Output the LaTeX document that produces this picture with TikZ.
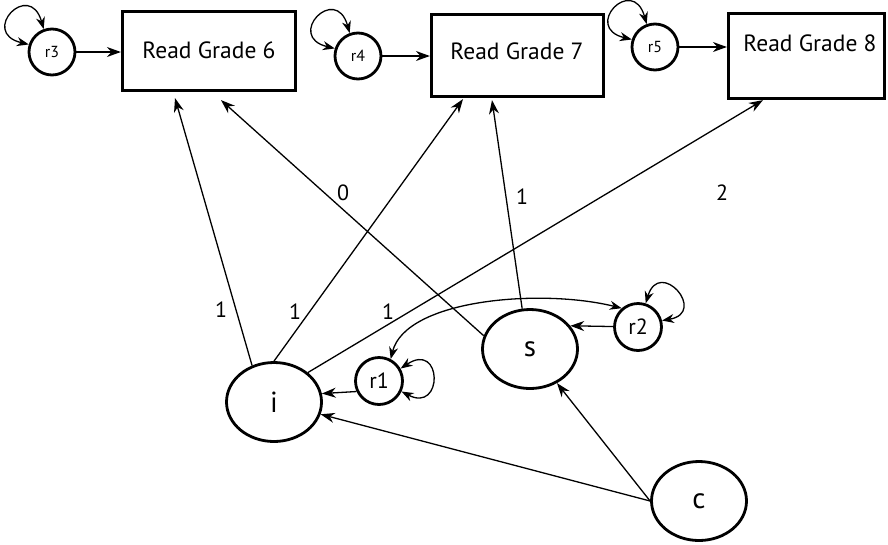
\documentclass[tikz,border=0pt]{standalone}
\usepackage{fontspec}
\setmainfont{PT Sans}
\usetikzlibrary{arrows.meta,shapes.geometric}
\begin{document}
\begin{tikzpicture}[x=1pt,y=-1pt,
  box/.style={draw, line width=3.2pt, inner sep=0pt},
  boxtext/.style={font=\fontsize{23.5}{27}\selectfont, inner sep=0pt},
  bigell/.style={draw, ellipse, line width=2.8pt, minimum width=95pt, minimum height=79pt, inner sep=0pt, font=\fontsize{29}{32}\selectfont},
  rmid/.style={draw, circle, line width=2.8pt, minimum size=47pt, inner sep=0pt, font=\fontsize{22}{24}\selectfont},
  rsmall/.style={draw, circle, line width=2.8pt, minimum size=46pt, inner sep=0pt, font=\fontsize{16}{19}\selectfont},
  edge/.style={line width=1.3pt, -{Stealth[length=14pt,width=10pt]}},
  loopedge/.style={line width=1.3pt, {Stealth[length=12pt,width=9pt]}-{Stealth[length=12pt,width=9pt]}},
  wlabel/.style={font=\fontsize{22}{24}\selectfont, inner sep=0pt}
]
\useasboundingbox (0,0) rectangle (888,544);

% boxes
\node[box, minimum width=173pt, minimum height=79pt] (G6) at (209,51) {};
\node[box, minimum width=172pt, minimum height=82pt] (G7) at (517.5,55.5) {};
\node[box, minimum width=156pt, minimum height=85pt] (G8) at (806.5,56) {};
\node[boxtext] (t6) at (209,50) {Read Grade 6};
\node[boxtext] (t7) at (517,51) {Read Grade 7};
\node[boxtext] (t8) at (810,43) {Read Grade 8};

% small r nodes
\node[rsmall] (r3) at (52,52) {r3};
\node[rsmall] (r4) at (358,56) {r4};
\node[rsmall] (r5) at (655,47) {r5};
\node[rmid] (r1) at (379,381) {r1};
\node[rmid] (r2) at (638,327) {r2};

% big ellipses
\node[bigell] (i) at (274,402) {i};
\node[bigell] (s) at (530,349) {s};
\node[bigell] (c) at (699,501) {c};

% r -> boxes
\draw[edge] (r3) -- (r3 -| G6.west);
\draw[edge] (r4) -- (r4 -| G7.west);
\draw[edge] (r5) -- (r5 -| G8.west);

% self loops
\draw[loopedge] (r3.162) .. controls +(-50,-12) and +(-14,-50) .. (r3.110);
\draw[loopedge] (r4.162) .. controls +(-50,-12) and +(-14,-50) .. (r4.110);
\draw[loopedge] (r5.162) .. controls +(-50,-12) and +(-14,-50) .. (r5.110);
\draw[loopedge] (r1.30) .. controls +(42,-28) and +(42,22) .. (r1.-25);
\draw[loopedge] (r2.72) .. controls +(14,-46) and +(46,-8) .. (r2.15);

% arrow tip coordinates at boxes
\coordinate (a6i) at ([xshift=-34pt,yshift=-6pt]G6.south);
\coordinate (a6s) at ([xshift=12pt,yshift=-8pt]G6.south);
\coordinate (a7i) at ([xshift=-54.5pt,yshift=-1pt]G7.south);
\coordinate (a7s) at ([xshift=-25.5pt,yshift=-2pt]G7.south);
\coordinate (a8i) at ([xshift=-43.5pt,yshift=0pt]G8.south);

% edges to boxes
\draw[edge] (i.121) -- (a6i);
\draw[edge] (i.90) -- (a7i);
\draw[edge] (i.41) -- (a8i);
\draw[edge] (s.164) -- (a6s);
\draw[edge] (s.101) -- (a7s);

% other edges
\draw[edge] (r1.205) -- (i.10);
\draw[edge] (r2) -- (s.30);
\draw[edge] (c.west) -- (i);
\draw[edge] (c.west) -- (s);
\draw[loopedge] (r1.62) .. controls +(15,-60) and +(-80,-20) .. (r2.131);

% weight labels
\node[wlabel] (w1) at (221,310) {1};
\node[wlabel] (w2) at (295,312) {1};
\node[wlabel] (w3) at (388,312) {1};
\node[wlabel] (w4) at (343,193) {0};
\node[wlabel] (w5) at (522,197) {1};
\node[wlabel] (w6) at (722,193) {2};
\end{tikzpicture}
\end{document}
